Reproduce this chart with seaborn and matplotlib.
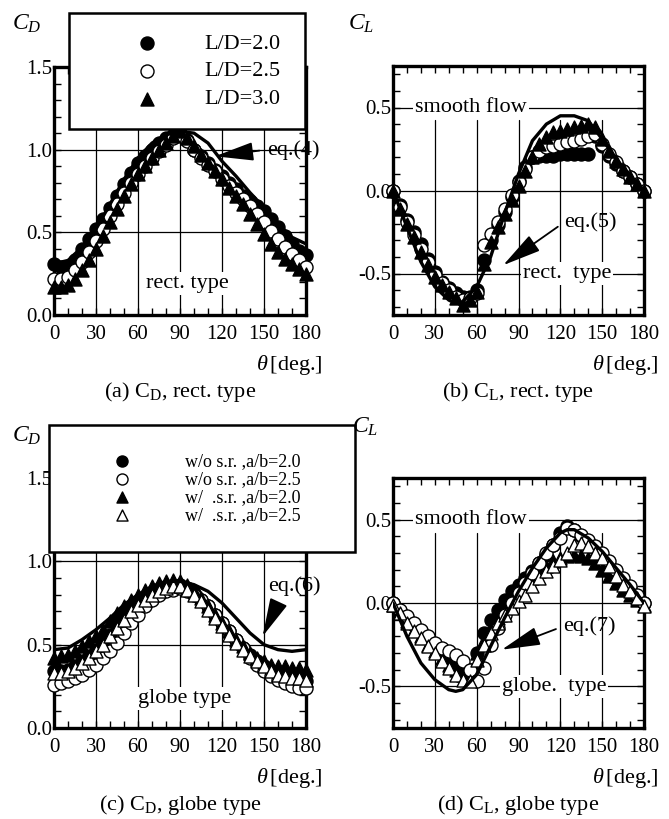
import numpy as np
import matplotlib
matplotlib.use("Agg")
import matplotlib.pyplot as plt
import seaborn as sns
from matplotlib.ticker import MultipleLocator, FuncFormatter

# ---------------- data ----------------
THETA = [0, 5, 10, 15, 20, 25, 30, 35, 40, 45, 50, 55, 60, 65, 70, 75, 80, 85, 90,
         95, 100, 105, 110, 115, 120, 125, 130, 135, 140, 145, 150, 155, 160, 165, 170, 175, 180]
THETA_EQ = [0, 10, 20, 30, 40, 50, 60, 70, 80, 90, 100, 110, 120, 130, 140, 150, 160, 170, 180]

# (a) CD, rect. type
cd_rect_ld20 = [0.31, 0.29, 0.29, 0.33, 0.40, 0.46, 0.52, 0.58, 0.65, 0.72, 0.79, 0.86, 0.92, 0.96, 1.00, 1.04, 1.07, 1.09, 1.10,
                1.06, 1.00, 0.96, 0.92, 0.88, 0.84, 0.80, 0.76, 0.72, 0.69, 0.66, 0.63, 0.58, 0.53, 0.48, 0.43, 0.39, 0.36]
cd_rect_ld25 = [0.22, 0.22, 0.23, 0.27, 0.32, 0.38, 0.45, 0.52, 0.60, 0.67, 0.74, 0.80, 0.85, 0.90, 0.95, 0.99, 1.03, 1.07, 1.09,
                1.05, 1.00, 0.95, 0.91, 0.87, 0.82, 0.78, 0.74, 0.70, 0.66, 0.61, 0.56, 0.51, 0.46, 0.41, 0.37, 0.33, 0.29]
cd_rect_ld30 = [0.17, 0.17, 0.18, 0.22, 0.27, 0.33, 0.40, 0.48, 0.56, 0.64, 0.72, 0.79, 0.85, 0.90, 0.95, 1.00, 1.04, 1.08, 1.11,
                1.07, 1.02, 0.97, 0.92, 0.87, 0.82, 0.77, 0.72, 0.67, 0.61, 0.55, 0.49, 0.43, 0.38, 0.34, 0.31, 0.28, 0.25]
eq4 = [0.31, 0.33, 0.41, 0.52, 0.67, 0.82, 0.95, 1.04, 1.09, 1.11, 1.10, 1.04, 0.93, 0.84, 0.74, 0.65, 0.55, 0.47, 0.43]

# (b) CL, rect. type
cl_rect_ld20 = [0.00, -0.09, -0.18, -0.25, -0.32, -0.41, -0.49, -0.55, -0.59, -0.62, -0.64, -0.64, -0.60, -0.42, -0.30, -0.21, -0.13, -0.04, 0.06,
                0.14, 0.20, 0.21, 0.21, 0.21, 0.22, 0.22, 0.22, 0.22, 0.22, 0.33, 0.27, 0.21, 0.16, 0.12, 0.08, 0.04, 0.00]
cl_rect_ld25 = [0.00, -0.10, -0.19, -0.27, -0.35, -0.43, -0.51, -0.56, -0.60, -0.64, -0.66, -0.65, -0.62, -0.33, -0.26, -0.19, -0.11, -0.03, 0.05,
                0.13, 0.20, 0.24, 0.26, 0.27, 0.28, 0.29, 0.30, 0.31, 0.33, 0.34, 0.28, 0.22, 0.17, 0.12, 0.08, 0.04, 0.00]
cl_rect_ld30 = [0.00, -0.11, -0.20, -0.28, -0.37, -0.45, -0.52, -0.57, -0.61, -0.65, -0.69, -0.66, -0.61, -0.44, -0.31, -0.22, -0.14, -0.06, 0.03,
                0.12, 0.20, 0.28, 0.32, 0.35, 0.36, 0.37, 0.38, 0.39, 0.40, 0.38, 0.31, 0.24, 0.18, 0.13, 0.08, 0.04, 0.00]
THETA_EQ5 = [0, 10, 20, 30, 40, 45, 50, 60, 70, 80, 90, 100, 110, 120, 130, 140, 150, 160, 170, 180]
eq5 = [0.00, -0.22, -0.43, -0.58, -0.66, -0.68, -0.67, -0.58, -0.40, -0.14, 0.10, 0.30, 0.40, 0.45, 0.45, 0.42, 0.31, 0.19, 0.09, 0.00]

# (c) CD, globe type
cd_glob_wo20 = [0.34, 0.34, 0.35, 0.37, 0.40, 0.43, 0.47, 0.51, 0.56, 0.61, 0.66, 0.70, 0.74, 0.77, 0.80, 0.82, 0.84, 0.85, 0.86,
                0.84, 0.81, 0.77, 0.73, 0.68, 0.63, 0.58, 0.53, 0.48, 0.44, 0.40, 0.37, 0.34, 0.32, 0.30, 0.29, 0.28, 0.28]
cd_glob_wo25 = [0.26, 0.27, 0.28, 0.30, 0.32, 0.35, 0.38, 0.42, 0.46, 0.51, 0.57, 0.63, 0.68, 0.73, 0.77, 0.80, 0.82, 0.83, 0.84,
                0.82, 0.80, 0.77, 0.73, 0.68, 0.63, 0.58, 0.53, 0.48, 0.42, 0.38, 0.34, 0.31, 0.29, 0.27, 0.25, 0.24, 0.24]
cd_glob_w20 = [0.42, 0.43, 0.44, 0.46, 0.49, 0.52, 0.55, 0.59, 0.64, 0.69, 0.73, 0.77, 0.80, 0.83, 0.85, 0.87, 0.88, 0.89, 0.88,
               0.86, 0.82, 0.78, 0.73, 0.68, 0.63, 0.58, 0.53, 0.49, 0.45, 0.42, 0.40, 0.38, 0.37, 0.37, 0.36, 0.36, 0.35]
cd_glob_w25 = [0.33, 0.33, 0.34, 0.36, 0.39, 0.42, 0.46, 0.50, 0.55, 0.60, 0.65, 0.70, 0.74, 0.77, 0.80, 0.82, 0.84, 0.85, 0.85,
               0.83, 0.80, 0.76, 0.71, 0.66, 0.61, 0.56, 0.51, 0.47, 0.43, 0.40, 0.37, 0.34, 0.32, 0.31, 0.30, 0.30, 0.29]
eq6 = [0.47, 0.48, 0.53, 0.59, 0.66, 0.74, 0.80, 0.85, 0.88, 0.88, 0.86, 0.82, 0.75, 0.66, 0.57, 0.50, 0.47, 0.46, 0.47]

# (d) CL, globe type
cl_glob_wo20 = [0.00, -0.05, -0.09, -0.13, -0.17, -0.21, -0.25, -0.28, -0.32, -0.35, -0.38, -0.40, -0.30, -0.18, -0.10, -0.04, 0.02, 0.07, 0.11,
                0.15, 0.19, 0.24, 0.29, 0.35, 0.42, 0.46, 0.44, 0.40, 0.37, 0.33, 0.28, 0.23, 0.18, 0.13, 0.09, 0.04, 0.00]
cl_glob_wo25 = [0.00, -0.04, -0.08, -0.12, -0.16, -0.20, -0.24, -0.27, -0.29, -0.31, -0.35, -0.40, -0.47, -0.39, -0.25, -0.15, -0.07, 0.00, 0.06,
                0.12, 0.18, 0.24, 0.30, 0.35, 0.39, 0.45, 0.44, 0.41, 0.38, 0.34, 0.30, 0.25, 0.20, 0.15, 0.10, 0.05, 0.00]
cl_glob_w20 = [-0.01, -0.06, -0.11, -0.16, -0.20, -0.25, -0.29, -0.33, -0.37, -0.40, -0.43, -0.42, -0.30, -0.22, -0.15, -0.09, -0.03, 0.02, 0.07,
               0.11, 0.15, 0.19, 0.22, 0.25, 0.27, 0.28, 0.29, 0.28, 0.27, 0.24, 0.20, 0.16, 0.12, 0.08, 0.05, 0.02, -0.01]
cl_glob_w25 = [-0.01, -0.06, -0.12, -0.17, -0.21, -0.26, -0.30, -0.35, -0.39, -0.43, -0.46, -0.47, -0.34, -0.25, -0.18, -0.12, -0.07, -0.03, 0.01,
               0.05, 0.10, 0.15, 0.19, 0.22, 0.26, 0.30, 0.35, 0.36, 0.34, 0.30, 0.27, 0.22, 0.16, 0.11, 0.07, 0.03, -0.02]
THETA_EQ7 = [0, 10, 20, 30, 40, 45, 50, 60, 70, 80, 90, 100, 110, 120, 125, 130, 140, 150, 160, 170, 180]
eq7 = [0.00, -0.20, -0.36, -0.46, -0.52, -0.53, -0.52, -0.43, -0.26, -0.09, 0.07, 0.21, 0.33, 0.42, 0.44, 0.44, 0.39, 0.31, 0.21, 0.11, 0.00]

LEG_RECT = ["L/D=2.0", "L/D=2.5", "L/D=3.0"]
LEG_GLOBE = ["w/o s.r. ,a/b=2.0", "w/o s.r. ,a/b=2.5", "w/  .s.r. ,a/b=2.0", "w/  .s.r. ,a/b=2.5"]

# ---------------- style ----------------
sns.set_theme(style="ticks")
plt.rcParams.update({
    "font.family": ["Liberation Serif", "DejaVu Serif"],
    "mathtext.fontset": "custom",
    "mathtext.rm": "Liberation Serif",
    "mathtext.it": "Liberation Serif:italic",
    "axes.unicode_minus": False,
    "axes.edgecolor": "black",
    "xtick.color": "black",
    "ytick.color": "black",
    "text.color": "black",
    "axes.facecolor": "white",
})

W, H = 669, 819
fig = plt.figure(figsize=(W / 100, H / 100), dpi=100)


def add_ax(l, t, r, b):
    return fig.add_axes([l / W, 1 - b / H, (r - l) / W, (b - t) / H])


ax_a = add_ax(54, 67, 306, 315)
ax_b = add_ax(393, 66, 644, 315)
ax_c = add_ax(54, 478, 306, 728)
ax_d = add_ax(393, 478, 644, 728)

fmt = FuncFormatter(lambda v, p: ("%.1f" % v).replace("-0.0", "0.0"))


def style(ax, ylim, vtop=1.0):
    ax.set_xlim(0, 180)
    ax.set_ylim(*ylim)
    ax.xaxis.set_major_locator(MultipleLocator(30))
    ax.xaxis.set_minor_locator(MultipleLocator(10))
    ax.yaxis.set_major_locator(MultipleLocator(0.5))
    ax.yaxis.set_minor_locator(MultipleLocator(0.1))
    ax.yaxis.set_major_formatter(fmt)
    ax.tick_params(which="both", direction="in", top=True, right=True,
                   length=5, width=1.0, labelsize=15)
    ax.tick_params(axis="x", which="major", pad=7)
    ax.tick_params(axis="y", which="major", pad=1)
    ax.grid(True, axis="y", which="major", color="black", lw=0.9)
    for xv in [30, 60, 90, 120, 150]:
        ax.axvline(xv, ymin=0, ymax=vtop, color="black", lw=0.9, zorder=0.6)
    ax.set_axisbelow(True)
    for s in ax.spines.values():
        s.set_linewidth(2.4)
    ax.set_xlabel("")
    ax.set_ylabel("")


def pts(ax, y, marker, filled, label):
    sns.scatterplot(x=THETA, y=y, ax=ax, marker=marker, s=88,
                    facecolor="black" if filled else "white", edgecolor="black",
                    linewidth=1.0, clip_on=False, zorder=3, label=label, legend=False)


def eqline(ax, xs, ys):
    sns.lineplot(x=xs, y=ys, ax=ax, color="black", lw=2.4, zorder=4, legend=False)


# (a)
style(ax_a, (0, 1.5))
pts(ax_a, cd_rect_ld20, "o", True, LEG_RECT[0])
pts(ax_a, cd_rect_ld25, "o", False, LEG_RECT[1])
pts(ax_a, cd_rect_ld30, "^", True, LEG_RECT[2])
eqline(ax_a, THETA_EQ, eq4)

# (b)
style(ax_b, (-0.75, 0.75), vtop=0.785)
pts(ax_b, cl_rect_ld20, "o", True, None)
pts(ax_b, cl_rect_ld25, "o", False, None)
pts(ax_b, cl_rect_ld30, "^", True, None)
eqline(ax_b, THETA_EQ5, eq5)

# (c)
style(ax_c, (0, 1.5))
pts(ax_c, cd_glob_wo20, "o", True, LEG_GLOBE[0])
pts(ax_c, cd_glob_wo25, "o", False, LEG_GLOBE[1])
pts(ax_c, cd_glob_w20, "^", True, LEG_GLOBE[2])
pts(ax_c, cd_glob_w25, "^", False, LEG_GLOBE[3])
eqline(ax_c, THETA_EQ, eq6)

# (d)
style(ax_d, (-0.75, 0.75), vtop=0.78)
pts(ax_d, cl_glob_wo20, "o", True, None)
pts(ax_d, cl_glob_w20, "^", True, None)
pts(ax_d, cl_glob_wo25, "o", False, None)
pts(ax_d, cl_glob_w25, "^", False, None)
eqline(ax_d, THETA_EQ7, eq7)

# legends
leg_a = ax_a.legend(loc="upper left", bbox_to_anchor=(69 / W, 1 - 125 / H, 236 / W, 112 / H),
                    bbox_transform=fig.transFigure, mode="expand", borderaxespad=0,
                    fontsize=16, frameon=True, fancybox=False, edgecolor="black",
                    framealpha=1, borderpad=0.9, handlelength=5.2, handletextpad=0.0,
                    labelspacing=0.33, scatterpoints=1)
leg_a.get_frame().set_linewidth(1.8)
leg_a.set_zorder(10)

leg_c = ax_c.legend(loc="upper left", bbox_to_anchor=(49 / W, 1 - 563 / H, 306 / W, 138 / H),
                    bbox_transform=fig.transFigure, mode="expand", borderaxespad=0,
                    fontsize=13, frameon=True, fancybox=False, edgecolor="black",
                    framealpha=1, borderpad=1.55, handlelength=5.0, handletextpad=1.0,
                    labelspacing=0.05, scatterpoints=1, markerscale=0.85)
leg_c.get_frame().set_linewidth(1.8)
leg_c.set_zorder(10)

# in-plot texts
white = dict(facecolor="white", edgecolor="none", pad=1.5)
ax_a.text(66, 0.19, "rect. type", ha="left", va="center", fontsize=16, bbox=white, zorder=4.5)
ax_c.text(60, 0.18, "globe type", ha="left", va="center", fontsize=16, bbox=white, zorder=4.5)
ax_b.text(16, 0.5, "smooth flow", ha="left", va="center", fontsize=16, bbox=white, zorder=4.5)
ax_b.text(93, -0.5, "rect.  type", ha="left", va="center", fontsize=16, bbox=white, zorder=4.5)
ax_d.text(16, 0.5, "smooth flow", ha="left", va="center", fontsize=16, bbox=white, zorder=4.5)
ax_d.text(78, -0.5, "globe.  type", ha="left", va="center", fontsize=16, bbox=white, zorder=4.5)


def arrow_note(ax, txt, xy, xytext, relpos=(0.0, 0.5)):
    ax.annotate(txt, xy=xy, xytext=xytext, ha="left", va="center", fontsize=16,
                annotation_clip=False, zorder=6,
                arrowprops=dict(arrowstyle="-|>,head_length=1.5,head_width=0.36",
                                color="black", lw=1.3, shrinkA=3, shrinkB=0,
                                relpos=relpos))


arrow_note(ax_a, "eq.(4)", (115, 0.96), (152, 1.0))
arrow_note(ax_b, "eq.(5)", (79, -0.45), (123, -0.19))
arrow_note(ax_c, "eq.(6)", (149, 0.55), (153, 0.85), relpos=(0.25, 0.0))
arrow_note(ax_d, "eq.(7)", (78, -0.28), (122, -0.14))

# axis labels
for x0, yb, sub in [(12, 30, "D"), (348, 30, "L"), (12, 442, "D"), (352, 433, "L")]:
    fig.text(x0 / W, 1 - yb / H, r"$C_%s$" % sub, fontsize=17, ha="left", va="baseline")
for xr, yc in [(322, 365), (658, 365), (322, 778), (658, 778)]:
    fig.text(xr / W, 1 - yc / H, r"$\theta\,$[deg.]", fontsize=16, ha="right", va="center")

# captions
caps = [(180, 392, r"(a) C$_\mathrm{D}$, rect. type"),
        (518, 392, r"(b) C$_\mathrm{L}$, rect. type"),
        (180, 805, r"(c) C$_\mathrm{D}$, globe type"),
        (518, 805, r"(d) C$_\mathrm{L}$, globe type")]
for xc, yc, t in caps:
    fig.text(xc / W, 1 - yc / H, t, fontsize=16, ha="center", va="center")

fig.savefig("out.png", dpi=100)
